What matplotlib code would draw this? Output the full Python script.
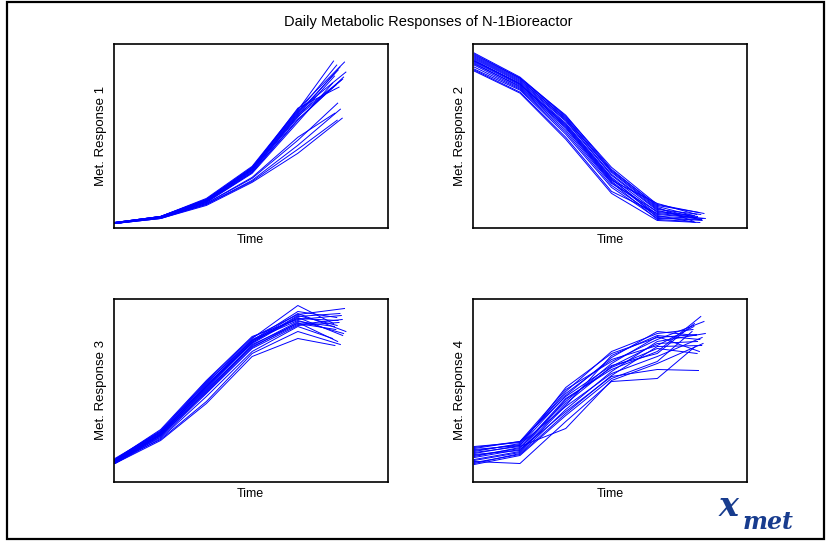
import numpy as np
import matplotlib
matplotlib.use("Agg")
import matplotlib.pyplot as plt
from matplotlib.patches import Rectangle

plt.rcParams['font.family'] = ['Liberation Sans', 'DejaVu Sans']

# sampling days (first five shared, last one differs per batch)
days = [0, 1, 2, 3, 4]
last_day = [4.78, 4.85, 5.02, 4.92, 4.88, 4.80, 5.05, 4.95, 4.83,
            4.98, 4.90, 4.76, 5.00, 4.87, 4.93, 4.81, 4.97, 4.86]

resp1 = [
    [5, 11, 28, 60, 117, 166],
    [4, 10, 27, 59, 115, 162],
    [5, 11, 29, 61, 118, 165],
    [4, 10, 26, 57, 112, 160],
    [5, 11, 27, 58, 114, 157],
    [4, 10, 26, 56, 110, 151],
    [5, 11, 28, 60, 116, 155],
    [4, 10, 25, 55, 108, 147],
    [5, 10, 26, 57, 111, 142],
    [4, 11, 27, 58, 113, 148],
    [5, 11, 28, 59, 119, 140],
    [4, 10, 25, 54, 105, 144],
    [5, 10, 26, 55, 107, 150],
    [4, 9, 24, 49, 87, 124],
    [4, 10, 23, 47, 82, 118],
    [5, 10, 24, 50, 90, 114],
    [4, 9, 22, 45, 74, 109],
    [4, 9, 23, 46, 78, 107],
]

resp2 = [
    [172, 149, 112, 58, 21, 12],
    [170, 147, 109, 55, 19, 10],
    [174, 150, 111, 60, 23, 14],
    [168, 145, 106, 52, 17, 8],
    [166, 144, 104, 50, 15, 11],
    [171, 148, 108, 56, 20, 6],
    [165, 142, 102, 48, 13, 9],
    [169, 146, 107, 53, 18, 13],
    [163, 141, 100, 46, 12, 5],
    [167, 143, 103, 49, 10, 7],
    [173, 149, 110, 57, 22, 15],
    [164, 140, 99, 45, 8, 6],
    [160, 138, 95, 42, 11, 9],
    [157, 135, 90, 36, 14, 10],
    [156, 134, 88, 34, 7, 5],
    [162, 139, 97, 44, 16, 12],
    [158, 137, 93, 40, 9, 8],
    [166, 143, 101, 47, 24, 13],
]

resp3 = [
    [21, 50, 98, 143, 176, 158],
    [20, 48, 95, 141, 170, 164],
    [22, 51, 100, 144, 167, 173],
    [19, 47, 93, 139, 165, 168],
    [21, 49, 96, 142, 163, 161],
    [18, 45, 90, 136, 160, 155],
    [20, 47, 94, 140, 168, 150],
    [22, 52, 101, 145, 162, 166],
    [19, 46, 91, 137, 158, 152],
    [21, 48, 97, 138, 164, 146],
    [20, 44, 88, 133, 156, 159],
    [18, 43, 85, 130, 155, 143],
    [23, 50, 99, 141, 161, 148],
    [19, 46, 89, 134, 159, 140],
    [20, 42, 80, 128, 150, 137],
    [18, 41, 78, 125, 143, 136],
    [21, 47, 92, 135, 157, 162],
    [22, 49, 95, 139, 166, 156],
]

resp4 = [
    [30, 38, 90, 130, 148, 152],
    [28, 36, 86, 124, 150, 146],
    [33, 40, 92, 120, 142, 160],
    [25, 34, 80, 118, 145, 130],
    [22, 30, 78, 115, 138, 140],
    [35, 39, 88, 122, 136, 155],
    [18, 28, 72, 110, 140, 148],
    [26, 33, 83, 112, 130, 165],
    [20, 18, 60, 100, 103, 135],
    [31, 37, 75, 108, 125, 144],
    [24, 32, 70, 105, 112, 111],
    [17, 26, 66, 103, 120, 150],
    [29, 35, 53, 101, 118, 138],
    [27, 31, 82, 114, 133, 128],
    [21, 29, 76, 126, 146, 142],
    [34, 40, 85, 116, 128, 158],
    [19, 27, 68, 106, 135, 136],
    [32, 36, 94, 128, 144, 147],
]

ylabels = ['Met. Response 1', 'Met. Response 2', 'Met. Response 3', 'Met. Response 4']

W, H = 827, 541
fig = plt.figure(figsize=(W / 100, H / 100), dpi=100)

# axes boxes in pixels: left, top, right, bottom
boxes = [(114, 44, 387.5, 227.5), (473.3, 44, 747, 227.5),
         (114, 298.5, 387.5, 481.5), (473.3, 298.5, 747, 481.5)]

for (l, t, r, b), data, lab in zip(boxes, [resp1, resp2, resp3, resp4], ylabels):
    ax = fig.add_axes([l / W, 1 - b / H, (r - l) / W, (b - t) / H])
    for vals, ld in zip(data, last_day):
        ax.plot(days + [ld], vals, color='#0000ff', lw=0.7)
    ax.set_xlim(-0.02, 5.96)
    ax.set_ylim(0, 183)
    ax.set_xticks([])
    ax.set_yticks([])
    for s in ax.spines.values():
        s.set_linewidth(1.2)
    ax.set_xlabel('Time', fontsize=9, labelpad=5)
    ax.set_ylabel(lab, fontsize=9.5, labelpad=5)

fig.text(428 / W, 1 - 22 / H, 'Daily Metabolic Responses of N-1Bioreactor',
         ha='center', va='center', fontsize=10.5)

# logo
fig.text(719 / W, 1 - 516 / H, 'x', fontsize=24, family='DejaVu Serif',
         weight='bold', style='italic', color='#183c8e', ha='left', va='baseline')
fig.text(743 / W, 1 - 529 / H, 'met', fontsize=17, family='DejaVu Serif',
         weight='bold', style='italic', color='#183c8e', ha='left', va='baseline')

# outer frame
fig.add_artist(Rectangle((7 / W, 2 / H), 817 / W, 537 / H, transform=fig.transFigure,
                         fill=False, edgecolor='black', lw=1.6))

fig.savefig('out.png', dpi=100)
